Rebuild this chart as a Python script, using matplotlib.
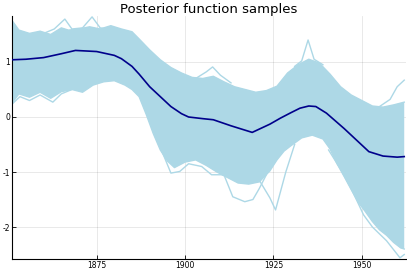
import numpy as np
import matplotlib
matplotlib.use("Agg")
import matplotlib.pyplot as plt

plt.rcParams["axes.unicode_minus"] = False

title = "Posterior function samples"
xticks = [1875, 1900, 1925, 1950]
yticks = [-2, -1, 0, 1]

mean_years = [1851, 1855, 1860, 1865, 1869, 1875, 1880, 1882, 1885, 1887, 1890, 1893,
              1896, 1899, 1901, 1905, 1908, 1913, 1919, 1924, 1927, 1930, 1932.5, 1935,
              1937, 1940, 1945, 1948.5, 1952, 1956, 1960, 1962]
mean_vals = [1.04, 1.05, 1.08, 1.15, 1.21, 1.19, 1.12, 1.06, 0.92, 0.78, 0.55, 0.37,
             0.19, 0.06, 0.0, -0.03, -0.05, -0.16, -0.28, -0.13, -0.02, 0.08, 0.16, 0.20,
             0.19, 0.07, -0.21, -0.42, -0.63, -0.71, -0.73, -0.72]

upper_years = [1851, 1853, 1856, 1859, 1862, 1865, 1867, 1870, 1873, 1876, 1879, 1882,
               1885, 1887, 1890, 1893, 1896, 1899, 1902, 1905, 1908, 1911, 1914, 1917,
               1920, 1923, 1926, 1929, 1932, 1935, 1938, 1941, 1944, 1947, 1950, 1953,
               1956, 1959, 1962]
upper_vals = [1.76, 1.58, 1.52, 1.56, 1.50, 1.62, 1.58, 1.60, 1.64, 1.60, 1.66, 1.60,
              1.55, 1.42, 1.22, 1.04, 0.90, 0.80, 0.72, 0.70, 0.74, 0.64, 0.55, 0.50,
              0.45, 0.48, 0.56, 0.80, 0.95, 1.05, 0.98, 0.78, 0.55, 0.40, 0.30, 0.20,
              0.18, 0.22, 0.27]

lower_years = [1851, 1853, 1856, 1859, 1862, 1865, 1868, 1871, 1874, 1877, 1880, 1883,
               1885, 1887, 1889, 1891, 1893, 1895, 1897, 1900, 1903, 1906, 1909, 1912,
               1915, 1918, 1921, 1924, 1926, 1928, 1930, 1933, 1936, 1939, 1941, 1943,
               1945, 1947, 1949, 1951, 1953, 1955, 1957, 1959, 1961, 1962]
lower_vals = [0.25, 0.42, 0.36, 0.45, 0.34, 0.46, 0.50, 0.45, 0.58, 0.64, 0.66, 0.58,
              0.50, 0.37, 0.05, -0.30, -0.60, -0.80, -0.92, -0.82, -0.78, -0.88, -1.00, -1.10,
              -1.20, -1.22, -1.18, -0.98, -0.78, -0.62, -0.52, -0.38, -0.33, -0.40, -0.58, -0.85,
              -1.08, -1.32, -1.55, -1.72, -1.90, -2.05, -2.15, -2.28, -2.38, -2.40]

# individual outlying sample traces
out1_years = [1858, 1860, 1863, 1866, 1868, 1871, 1873.7, 1876, 1878]
out1_vals = [1.50, 1.52, 1.60, 1.78, 1.60, 1.62, 1.82, 1.62, 1.60]
out2_years = [1851, 1853.3, 1856, 1859, 1862.6, 1865, 1868]
out2_vals = [0.23, 0.37, 0.30, 0.40, 0.27, 0.42, 0.50]
out3_years = [1931, 1933, 1934.8, 1936.5, 1939]
out3_vals = [0.92, 1.02, 1.40, 1.05, 0.95]
out4_years = [1903, 1906, 1907.8, 1910, 1913]
out4_vals = [0.70, 0.82, 0.91, 0.76, 0.62]
out5_years = [1955, 1958, 1960, 1962]
out5_vals = [0.19, 0.32, 0.55, 0.67]
out6_years = [1893, 1896, 1898.5, 1901, 1904.7, 1907.5, 1910.3, 1913]
out6_vals = [-0.55, -1.02, -0.99, -0.85, -0.90, -1.05, -1.05, -1.10]
out7_years = [1911, 1913.5, 1916.9, 1919.2, 1921, 1923]
out7_vals = [-1.05, -1.45, -1.54, -1.50, -1.30, -1.05]
out8_years = [1921, 1924, 1925.6, 1928.5, 1931]
out8_vals = [-1.15, -1.47, -1.69, -1.00, -0.50]
out9_years = [1940.6, 1944, 1947, 1950.5, 1953, 1957, 1960.8, 1962]
out9_vals = [-0.60, -0.95, -1.30, -1.78, -2.00, -2.25, -2.56, -2.50]

W, H = 407, 271
fig = plt.figure(figsize=(W / 100, H / 100), dpi=100)
ax = fig.add_axes([12 / W, 1 - 259.3 / H, 394 / W, (259.3 - 16) / H])

band_color = "#ADD8E6"
ax.fill(np.r_[upper_years, lower_years[::-1]], np.r_[upper_vals, lower_vals[::-1]],
        color=band_color, lw=0, zorder=2)
ax.plot(upper_years, upper_vals, color=band_color, lw=1, zorder=2)
ax.plot(lower_years, lower_vals, color=band_color, lw=1, zorder=2)
for yrs, vals in [(out1_years, out1_vals), (out2_years, out2_vals), (out3_years, out3_vals),
                  (out4_years, out4_vals), (out5_years, out5_vals), (out6_years, out6_vals),
                  (out7_years, out7_vals), (out8_years, out8_vals), (out9_years, out9_vals)]:
    ax.plot(yrs, vals, color=band_color, lw=1, zorder=2)

ax.plot(mean_years, mean_vals, color="#00008B", lw=1.2, zorder=3)

ax.set_xlim(1851.05, 1962.5)
ax.set_ylim(-2.587, 1.836)
ax.set_xticks(xticks)
ax.set_yticks(yticks)
ax.tick_params(direction="in", length=3, width=0.6, labelsize=5.5, pad=1.5)
ax.grid(True, color="black", alpha=0.1, lw=0.6, zorder=0)
ax.set_axisbelow(True)
for s in ["top", "right"]:
    ax.spines[s].set_visible(False)
for s in ["left", "bottom"]:
    ax.spines[s].set_linewidth(0.8)
ax.set_title(title, fontsize=9.5, pad=2.5)

fig.savefig("out.png", dpi=100)
